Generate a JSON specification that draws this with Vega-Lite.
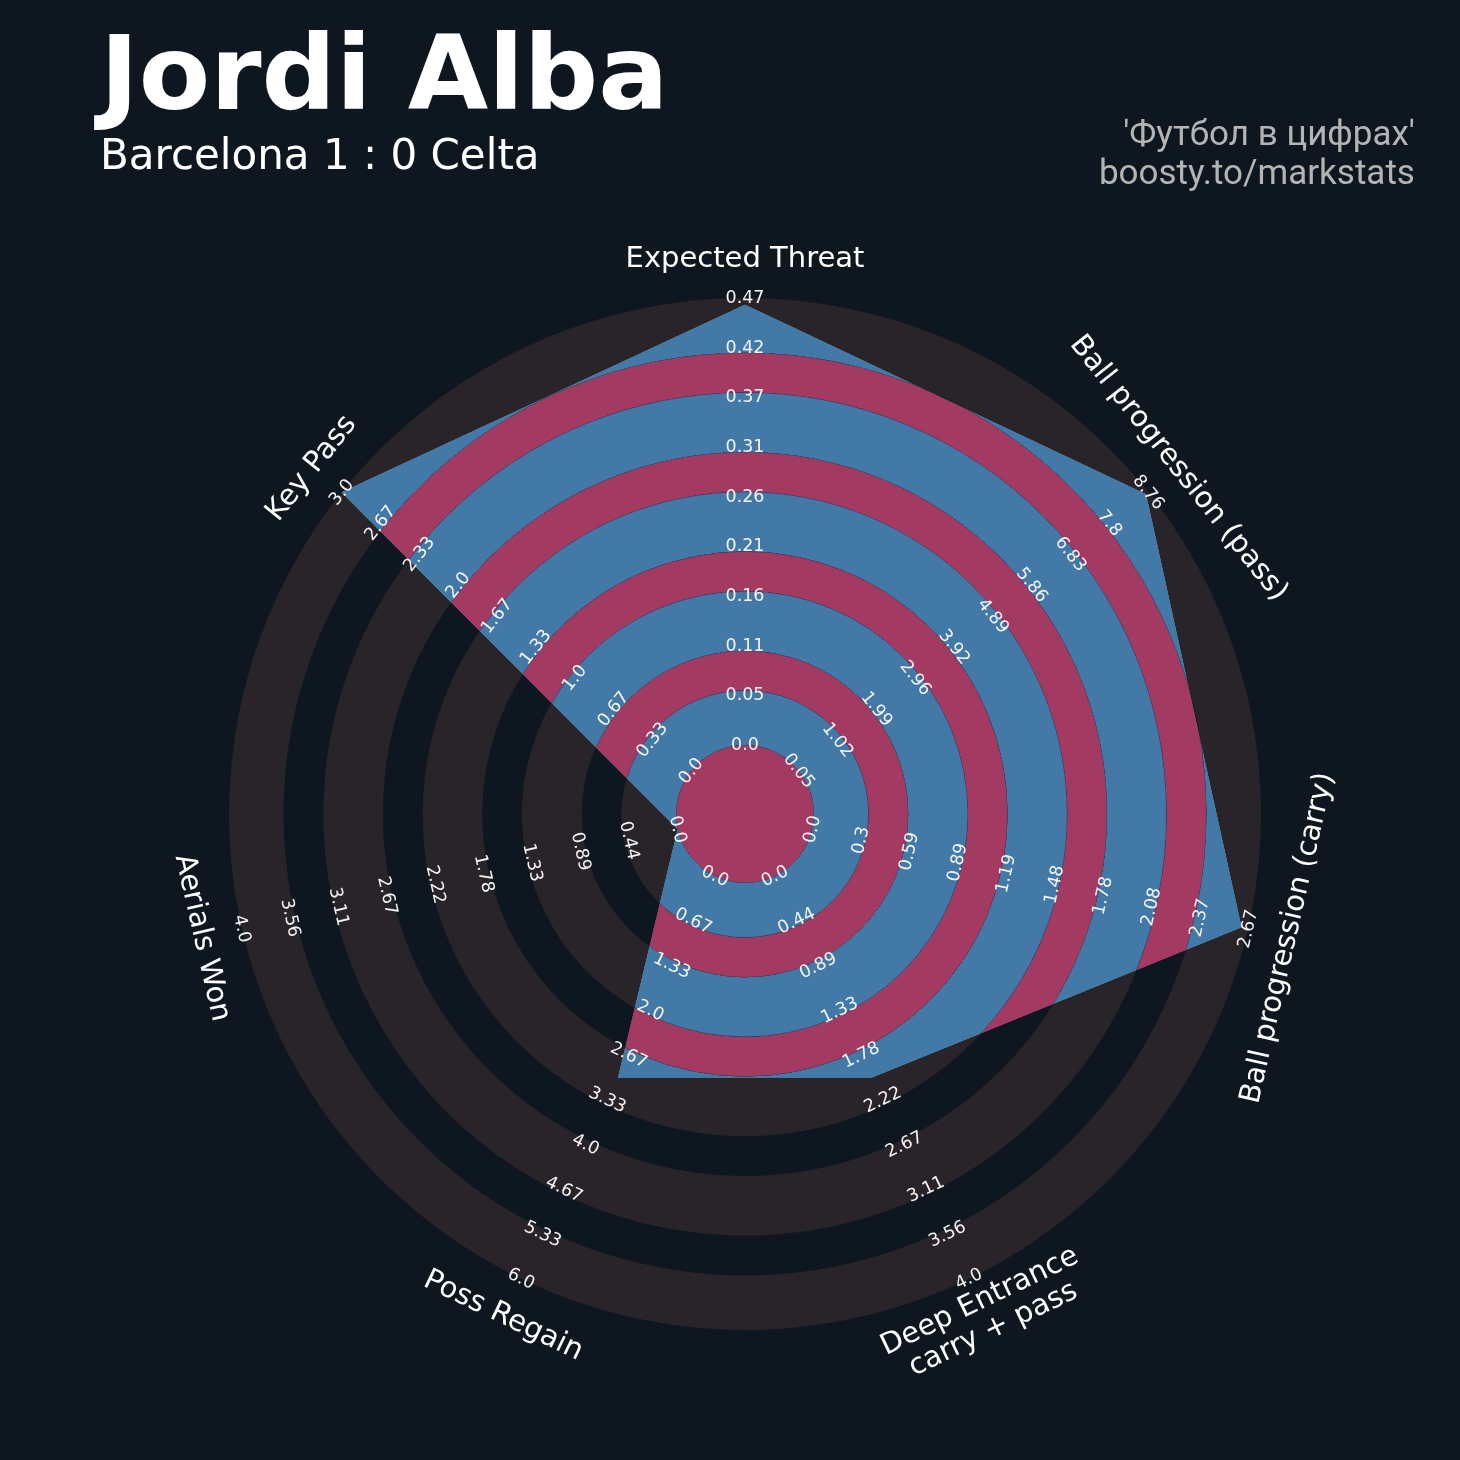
{
  "$schema": "https://vega.github.io/schema/vega-lite/v6.json",
  "width": 1290,
  "height": 1290,
  "autosize": {"type": "none"},
  "padding": {"left": 100, "top": 169, "right": 70, "bottom": 1},
  "background": "#0e171f",
  "config": {"view": {"stroke": null}},
  "title": {
    "text": "Jordi Alba",
    "subtitle": "Barcelona 1 : 0 Celta",
    "anchor": "start",
    "frame": "group",
    "offset": -44,
    "dy": 17,
    "font": "DejaVu Sans",
    "fontSize": 104,
    "fontWeight": "bold",
    "color": "#ffffff",
    "subtitleFont": "DejaVu Sans",
    "subtitleFontSize": 42,
    "subtitleColor": "#ffffff",
    "subtitlePadding": 5
  },
  "datasets": {
    "rings": [
      {"kind": "gap", "inner": -1.39, "outer": 0},
      {"kind": "circle", "inner": 0, "outer": 1.1},
      {"kind": "gap", "inner": 1.1, "outer": 1.9},
      {"kind": "circle", "inner": 1.9, "outer": 3.1},
      {"kind": "gap", "inner": 3.1, "outer": 3.9},
      {"kind": "circle", "inner": 3.9, "outer": 5.1},
      {"kind": "gap", "inner": 5.1, "outer": 5.9},
      {"kind": "circle", "inner": 5.9, "outer": 7.1},
      {"kind": "gap", "inner": 7.1, "outer": 7.9},
      {"kind": "circle", "inner": 7.9, "outer": 9.0}
    ],
    "stats": [
      {"param": "Expected Threat", "label": "Expected Threat", "axis": 0, "value": 0.463, "min": 0, "max": 0.47},
      {"param": "Ball progression (pass)", "label": "Ball progression (pass)", "axis": 1, "value": 8.7, "min": 0.05, "max": 8.76},
      {"param": "Ball progression (carry)", "label": "Ball progression (carry)", "axis": 2, "value": 2.63, "min": 0, "max": 2.67},
      {"param": "Deep Entrance", "label": "Deep Entrance\ncarry + pass", "axis": 3, "value": 2.0, "min": 0, "max": 4},
      {"param": "Poss Regain", "label": "Poss Regain", "axis": 4, "value": 3.0, "min": 0, "max": 6},
      {"param": "Aerials Won", "label": "Aerials Won", "axis": 5, "value": 0, "min": 0, "max": 4},
      {"param": "Key Pass", "label": "Key Pass", "axis": 6, "value": 3.0, "min": 0, "max": 3}
    ],
    "ticks": [
      {"axis": 0, "k": 0, "t": "0.0"}, {"axis": 0, "k": 1, "t": "0.05"}, {"axis": 0, "k": 2, "t": "0.11"}, {"axis": 0, "k": 3, "t": "0.16"}, {"axis": 0, "k": 4, "t": "0.21"},
      {"axis": 0, "k": 5, "t": "0.26"}, {"axis": 0, "k": 6, "t": "0.31"}, {"axis": 0, "k": 7, "t": "0.37"}, {"axis": 0, "k": 8, "t": "0.42"}, {"axis": 0, "k": 9, "t": "0.47"},
      {"axis": 1, "k": 0, "t": "0.05"}, {"axis": 1, "k": 1, "t": "1.02"}, {"axis": 1, "k": 2, "t": "1.99"}, {"axis": 1, "k": 3, "t": "2.96"}, {"axis": 1, "k": 4, "t": "3.92"},
      {"axis": 1, "k": 5, "t": "4.89"}, {"axis": 1, "k": 6, "t": "5.86"}, {"axis": 1, "k": 7, "t": "6.83"}, {"axis": 1, "k": 8, "t": "7.8"}, {"axis": 1, "k": 9, "t": "8.76"},
      {"axis": 2, "k": 0, "t": "0.0"}, {"axis": 2, "k": 1, "t": "0.3"}, {"axis": 2, "k": 2, "t": "0.59"}, {"axis": 2, "k": 3, "t": "0.89"}, {"axis": 2, "k": 4, "t": "1.19"},
      {"axis": 2, "k": 5, "t": "1.48"}, {"axis": 2, "k": 6, "t": "1.78"}, {"axis": 2, "k": 7, "t": "2.08"}, {"axis": 2, "k": 8, "t": "2.37"}, {"axis": 2, "k": 9, "t": "2.67"},
      {"axis": 3, "k": 0, "t": "0.0"}, {"axis": 3, "k": 1, "t": "0.44"}, {"axis": 3, "k": 2, "t": "0.89"}, {"axis": 3, "k": 3, "t": "1.33"}, {"axis": 3, "k": 4, "t": "1.78"},
      {"axis": 3, "k": 5, "t": "2.22"}, {"axis": 3, "k": 6, "t": "2.67"}, {"axis": 3, "k": 7, "t": "3.11"}, {"axis": 3, "k": 8, "t": "3.56"}, {"axis": 3, "k": 9, "t": "4.0"},
      {"axis": 4, "k": 0, "t": "0.0"}, {"axis": 4, "k": 1, "t": "0.67"}, {"axis": 4, "k": 2, "t": "1.33"}, {"axis": 4, "k": 3, "t": "2.0"}, {"axis": 4, "k": 4, "t": "2.67"},
      {"axis": 4, "k": 5, "t": "3.33"}, {"axis": 4, "k": 6, "t": "4.0"}, {"axis": 4, "k": 7, "t": "4.67"}, {"axis": 4, "k": 8, "t": "5.33"}, {"axis": 4, "k": 9, "t": "6.0"},
      {"axis": 5, "k": 0, "t": "0.0"}, {"axis": 5, "k": 1, "t": "0.44"}, {"axis": 5, "k": 2, "t": "0.89"}, {"axis": 5, "k": 3, "t": "1.33"}, {"axis": 5, "k": 4, "t": "1.78"},
      {"axis": 5, "k": 5, "t": "2.22"}, {"axis": 5, "k": 6, "t": "2.67"}, {"axis": 5, "k": 7, "t": "3.11"}, {"axis": 5, "k": 8, "t": "3.56"}, {"axis": 5, "k": 9, "t": "4.0"},
      {"axis": 6, "k": 0, "t": "0.0"}, {"axis": 6, "k": 1, "t": "0.33"}, {"axis": 6, "k": 2, "t": "0.67"}, {"axis": 6, "k": 3, "t": "1.0"}, {"axis": 6, "k": 4, "t": "1.33"},
      {"axis": 6, "k": 5, "t": "1.67"}, {"axis": 6, "k": 6, "t": "2.0"}, {"axis": 6, "k": 7, "t": "2.33"}, {"axis": 6, "k": 8, "t": "2.67"}, {"axis": 6, "k": 9, "t": "3.0"}
    ],
    "credit": [
      {"text": "'Футбол в цифрах'\nboosty.to/markstats"}
    ]
  },
  "layer": [
    {
      "data": {"name": "rings"},
      "transform": [{"filter": "datum.kind === 'circle'"}],
      "mark": {"type": "arc", "theta": 0, "theta2": 6.2832, "color": "#29242a"},
      "encoding": {
        "radius": {"field": "outer", "type": "quantitative", "scale": {"type": "linear", "domain": [-1.39, 11.598], "range": [0, 645], "zero": false, "nice": false}},
        "radius2": {"field": "inner"}
      }
    },
    {
      "data": {"name": "stats"},
      "transform": [
        {"calculate": "9 * (datum.value - datum.min) / (datum.max - datum.min) + 1.39", "as": "r"},
        {"calculate": "datum.axis * 2 * PI / 7", "as": "th"},
        {"calculate": "datum.r * sin(datum.th)", "as": "px"},
        {"calculate": "datum.r * cos(datum.th)", "as": "py"}
      ],
      "mark": {"type": "line", "interpolate": "linear-closed", "fill": "#ffffff", "stroke": "#ffffff", "strokeWidth": 0},
      "encoding": {
        "x": {"field": "px", "type": "quantitative", "scale": {"domain": [-12.988, 12.988], "nice": false, "zero": false}, "axis": null},
        "y": {"field": "py", "type": "quantitative", "scale": {"domain": [-12.988, 12.988], "nice": false, "zero": false}, "axis": null},
        "order": {"field": "axis", "type": "quantitative"}
      }
    },
    {
      "data": {"name": "rings"},
      "mark": {"type": "arc", "theta": 0, "theta2": 6.2832, "blend": "darken", "strokeWidth": 1},
      "encoding": {
        "radius": {"field": "outer", "type": "quantitative", "scale": {"type": "linear", "domain": [-1.39, 11.598], "range": [0, 645], "zero": false, "nice": false}},
        "radius2": {"field": "inner"},
        "color": {"field": "kind", "type": "nominal", "scale": {"domain": ["gap", "circle"], "range": ["#a33a62", "#4379a6"]}, "legend": null},
        "stroke": {"field": "kind", "type": "nominal", "scale": {"domain": ["gap", "circle"], "range": ["#a33a62", "#4379a6"]}, "legend": null}
      }
    },
    {
      "data": {"name": "ticks"},
      "transform": [
        {"calculate": "datum.axis * 360 / 7", "as": "deg"},
        {"calculate": "datum.deg > 90 && datum.deg < 270 ? datum.deg - 180 : (datum.deg >= 270 ? datum.deg - 360 : datum.deg)", "as": "rot"}
      ],
      "mark": {"type": "text", "font": "DejaVu Sans", "fontSize": 17.5, "color": "#f4f4f4", "align": "center", "baseline": "middle"},
      "encoding": {
        "theta": {"field": "axis", "type": "quantitative", "stack": null, "scale": {"domain": [0, 7], "range": [0, 6.283185], "zero": true, "nice": false}},
        "radius": {"field": "k", "type": "quantitative", "scale": {"type": "linear", "domain": [-1.39, 11.598], "range": [0, 645], "zero": false, "nice": false}},
        "text": {"field": "t"},
        "angle": {"field": "rot", "type": "quantitative", "scale": null}
      }
    },
    {
      "data": {"name": "stats"},
      "transform": [
        {"filter": "datum.axis !== 3"},
        {"calculate": "datum.axis * 360 / 7", "as": "deg"},
        {"calculate": "datum.deg > 90 && datum.deg < 270 ? datum.deg - 180 : (datum.deg >= 270 ? datum.deg - 360 : datum.deg)", "as": "rot"}
      ],
      "mark": {"type": "text", "font": "DejaVu Sans", "fontSize": 29, "color": "#ffffff", "align": "center", "baseline": "middle"},
      "encoding": {
        "theta": {"field": "axis", "type": "quantitative", "stack": null, "scale": {"domain": [0, 7], "range": [0, 6.283185], "zero": true, "nice": false}},
        "radius": {"datum": 9.8, "type": "quantitative", "scale": {"type": "linear", "domain": [-1.39, 11.598], "range": [0, 645], "zero": false, "nice": false}},
        "text": {"field": "label"},
        "angle": {"field": "rot", "type": "quantitative", "scale": null}
      }
    },
    {
      "data": {"name": "stats"},
      "transform": [
        {"filter": "datum.axis === 3"},
        {"calculate": "datum.axis * 360 / 7", "as": "deg"},
        {"calculate": "datum.deg > 90 && datum.deg < 270 ? datum.deg - 180 : (datum.deg >= 270 ? datum.deg - 360 : datum.deg)", "as": "rot"}
      ],
      "mark": {"type": "text", "font": "DejaVu Sans", "fontSize": 29, "color": "#ffffff", "align": "center", "baseline": "middle", "lineBreak": "\n", "lineHeight": 31, "dy": -16},
      "encoding": {
        "theta": {"field": "axis", "type": "quantitative", "stack": null, "scale": {"domain": [0, 7], "range": [0, 6.283185], "zero": true, "nice": false}},
        "radius": {"datum": 9.8, "type": "quantitative", "scale": {"type": "linear", "domain": [-1.39, 11.598], "range": [0, 645], "zero": false, "nice": false}},
        "text": {"field": "label"},
        "angle": {"field": "rot", "type": "quantitative", "scale": null}
      }
    },
    {
      "data": {"name": "credit"},
      "mark": {"type": "text", "font": "Roboto", "fontSize": 35, "color": "#b4b4b4", "align": "right", "baseline": "middle", "lineBreak": "\n", "lineHeight": 39},
      "encoding": {
        "x": {"datum": 13.49, "type": "quantitative"},
        "y": {"datum": 13.7, "type": "quantitative"},
        "text": {"field": "text"}
      }
    }
  ]
}
